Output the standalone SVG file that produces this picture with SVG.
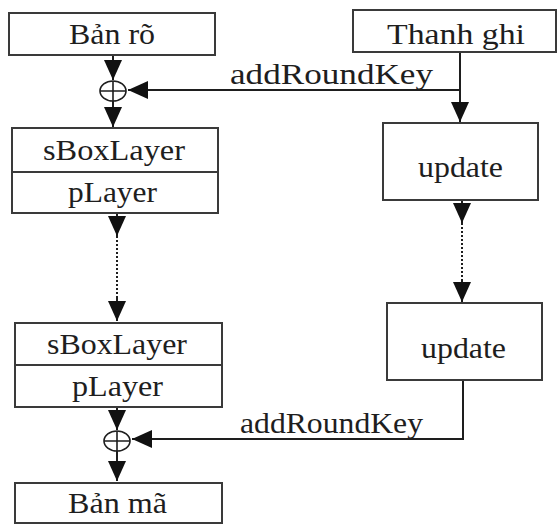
<svg xmlns="http://www.w3.org/2000/svg" width="557" height="525" viewBox="0 0 557 525">
  <style>
    .box { fill: #ffffff; stroke: #3a3a3a; stroke-width: 2; }
    .sep { stroke: #3a3a3a; stroke-width: 2; }
    .lbl { font-family: "Liberation Serif", "Times New Roman", serif; font-size: 30px; fill: #1e1e1e; }
    .wire { fill: none; stroke: #1e1e1e; stroke-width: 2; }
    .dot { fill: none; stroke: #1e1e1e; stroke-width: 2; stroke-dasharray: 2 2; }
    .xor { fill: none; stroke: #1e1e1e; stroke-width: 1.6; }
  </style>
  <defs>
    <marker id="head" markerUnits="userSpaceOnUse" markerWidth="20" markerHeight="18" viewBox="0 0 20 18" refX="20" refY="9" orient="auto">
      <path d="M0,0 L20,9 L0,18 Z" fill="#111111"/>
    </marker>
  </defs>
  <rect width="557" height="525" fill="#ffffff"/>

  <!-- connectors -->
  <g id="connectors">
    <path class="wire" d="M113,55 V80" marker-end="url(#head)"/>
    <path class="wire" d="M113,101 V127" marker-end="url(#head)"/>
    <path class="wire" d="M460,52 V122" marker-end="url(#head)"/>
    <path class="wire" d="M460,90 H128" marker-end="url(#head)"/>
    <path class="wire" d="M117,213 V236" marker-end="url(#head)"/>
    <path class="dot" d="M117,236 V302"/>
    <path class="wire" d="M117,298 V321" marker-end="url(#head)"/>
    <path class="wire" d="M462,200 V223" marker-end="url(#head)"/>
    <path class="dot" d="M462,223 V284"/>
    <path class="wire" d="M462,281 V302" marker-end="url(#head)"/>
    <path class="wire" d="M117,407 V430" marker-end="url(#head)"/>
    <path class="wire" d="M117,451 V481" marker-end="url(#head)"/>
    <path class="wire" d="M463,380 V439 H132" marker-end="url(#head)"/>
    <text class="lbl" x="230" y="84" textLength="203" lengthAdjust="spacingAndGlyphs">addRoundKey</text>
    <text class="lbl" x="240" y="433" textLength="183" lengthAdjust="spacingAndGlyphs">addRoundKey</text>
  </g>

  <g id="xor1">
    <ellipse class="xor" cx="113" cy="91" rx="13" ry="10"/>
    <path class="xor" d="M100,91 H126 M113,81 V101"/>
  </g>
  <g id="xor2">
    <ellipse class="xor" cx="117" cy="441" rx="13" ry="10"/>
    <path class="xor" d="M104,441 H130 M117,431 V451"/>
  </g>

  <g id="plaintext">
    <rect class="box" x="9" y="13" width="206" height="42"/>
    <text class="lbl" x="69" y="44" textLength="86" lengthAdjust="spacingAndGlyphs">Bản rõ</text>
  </g>

  <g id="key-register">
    <rect class="box" x="353" y="10" width="203" height="42"/>
    <text class="lbl" x="387" y="44" textLength="138" lengthAdjust="spacingAndGlyphs">Thanh ghi</text>
  </g>

  <g id="round-first">
    <rect class="box" x="12" y="128" width="206" height="85"/>
    <line class="sep" x1="12" y1="172" x2="218" y2="172"/>
    <text class="lbl" x="43" y="160" textLength="142" lengthAdjust="spacingAndGlyphs">sBoxLayer</text>
    <text class="lbl" x="68" y="202" textLength="89" lengthAdjust="spacingAndGlyphs">pLayer</text>
  </g>

  <g id="update-first">
    <rect class="box" x="383" y="123" width="155" height="77"/>
    <text class="lbl" x="418" y="177" textLength="85" lengthAdjust="spacingAndGlyphs">update</text>
  </g>

  <g id="round-last">
    <rect class="box" x="15" y="323" width="207" height="84"/>
    <line class="sep" x1="15" y1="365" x2="222" y2="365"/>
    <text class="lbl" x="47" y="354" textLength="140" lengthAdjust="spacingAndGlyphs">sBoxLayer</text>
    <text class="lbl" x="72" y="396" textLength="91" lengthAdjust="spacingAndGlyphs">pLayer</text>
  </g>

  <g id="update-last">
    <rect class="box" x="387" y="303" width="155" height="77"/>
    <text class="lbl" x="421" y="358" textLength="85" lengthAdjust="spacingAndGlyphs">update</text>
  </g>

  <g id="ciphertext">
    <rect class="box" x="15" y="483" width="207" height="40"/>
    <text class="lbl" x="68" y="513" textLength="99" lengthAdjust="spacingAndGlyphs">Bản mã</text>
  </g>
</svg>
